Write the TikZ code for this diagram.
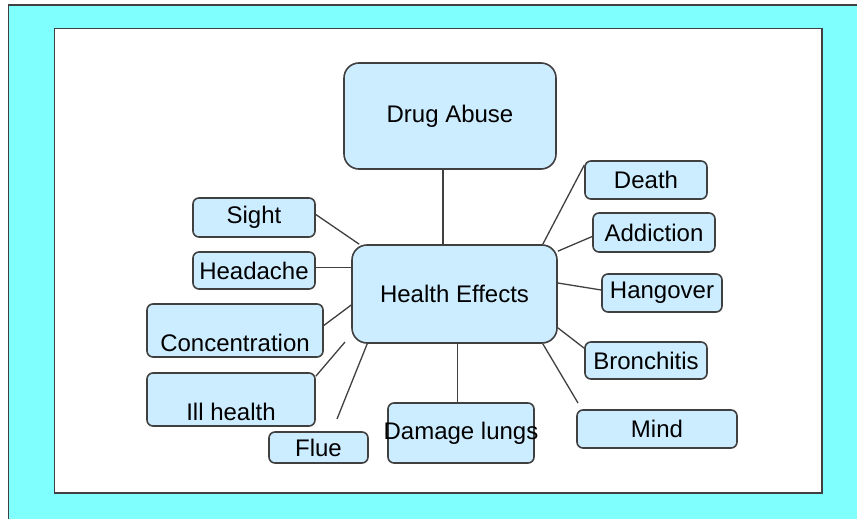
\documentclass[tikz,border=0pt]{standalone}
\usepackage{fontspec}
\setmainfont{Liberation Sans}
\usetikzlibrary{calc}
\definecolor{framecyan}{HTML}{80FFFF}
\definecolor{boxfill}{HTML}{CCECFF}
\definecolor{ink}{HTML}{404040}
\begin{document}
\begin{tikzpicture}[x=1pt,y=-1pt,
  box/.style={draw=ink, line width=1.6pt, fill=boxfill, rounded corners=6pt,
    inner sep=0pt, font=\fontsize{24}{27}\selectfont},
  bigbox/.style={box, rounded corners=15pt},
  txt/.style={inner sep=0pt, font=\fontsize{24}{27}\selectfont},
  link/.style={draw=ink, line width=1.3pt}]
\useasboundingbox (0,0) rectangle (857,519);
\clip (0,0) rectangle (857,519);

% cyan frame and white sheet
\draw[fill=framecyan, draw=ink, line width=1.6pt] (8.5,5) rectangle (880,540);
\draw[fill=white, draw=ink, line width=1.6pt] (54.5,28.5) rectangle (822,493);

% central nodes
\node[bigbox, minimum width=212pt, minimum height=106pt] (da) at (450,116) {Drug Abuse};
\node[bigbox, minimum width=205pt, minimum height=98pt] (he) at (454.5,294) {Health Effects};

% left branch
\node[box, minimum width=122pt, minimum height=39pt] (sight) at (254,217.5) {Sight};
\node[box, minimum width=122pt, minimum height=37pt] (head) at (254,270.5) {Headache};
\node[box, minimum width=176pt, minimum height=53pt] (conc) at (235,330.5) {};
\node[txt] (conc-t) at (235,343) {Concentration};
\node[box, minimum width=168pt, minimum height=53pt] (ill) at (231,399.5) {};
\node[txt] (ill-t) at (231,412) {Ill health};
\node[box, minimum width=99pt, minimum height=31pt] (flue) at (318.5,447.5) {Flue};

% bottom
\node[box, minimum width=146pt, minimum height=60pt] (dl) at (461,433) {\makebox[0pt]{Damage lungs}};

% right branch
\node[box, minimum width=122pt, minimum height=38pt] (death) at (646,180) {Death};
\node[box, minimum width=122pt, minimum height=39pt] (add) at (654,232.5) {Addiction};
\node[box, minimum width=120pt, minimum height=38pt] (hang) at (662,293) {Hangover};
\node[box, minimum width=122pt, minimum height=37pt] (bron) at (646,360.5) {Bronchitis};
\node[box, minimum width=160pt, minimum height=38pt] (mind) at (657,429) {Mind};

% loose ends of unattached spokes
\coordinate (ill-end) at (345,342);
\coordinate (flue-end) at (337,419);
\coordinate (mind-end) at (578,403);

% spokes
\draw[link] ([xshift=-7pt]da.south) -- ([xshift=-7pt]da.south |- he.north);
\draw[link] ([yshift=3pt]sight.east) -- ([xshift=8pt]he.north west);
\draw[link] ([yshift=3pt]head.east) -- ([yshift=3pt]head.east -| he.west);
\draw[link] ([yshift=5pt]conc.east) -- ([yshift=-11pt]he.west);
\draw[link] ([yshift=-4pt]ill.north east) -- (ill-end);
\draw[link] ([xshift=16pt]he.south west) -- (flue-end);
\draw[link] ([xshift=3pt]he.south) -- ([xshift=3pt]he.south |- dl.north);
\draw[link] ([xshift=-15pt]he.north east) -- ([yshift=-5pt]death.north west);
\draw[link] ([yshift=-7pt]he.north east) -- ([yshift=-4pt]add.west);
\draw[link] ([yshift=11pt]he.east) -- ([yshift=3pt]hang.west);
\draw[link] ([yshift=16pt]he.south east) -- ([yshift=-7pt]bron.north west);
\draw[link] ([xshift=-15pt]he.south east) -- (mind-end);
\end{tikzpicture}
\end{document}
